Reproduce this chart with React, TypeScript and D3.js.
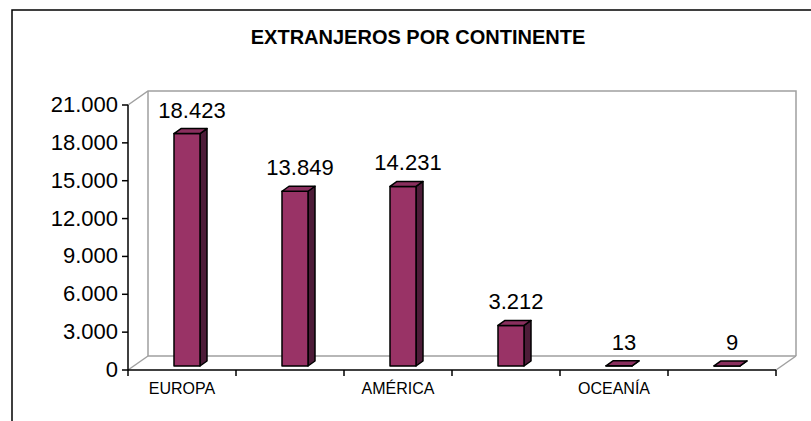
import React from 'react';
import * as d3 from 'd3';

const categories = ['EUROPA', 'ÁFRICA', 'AMÉRICA', 'ASIA', 'OCEANÍA', 'APÁTRIDAS'];
const values = [18423, 13849, 14231, 3212, 13, 9];
const yTicks = [0, 3000, 6000, 9000, 12000, 15000, 18000, 21000];
const title = 'EXTRANJEROS POR CONTINENTE';

const W = 811;
const H = 421;

const esFormat = d3.formatLocale({
  decimal: ',',
  thousands: '.',
  grouping: [3],
  currency: ['', ''],
}).format(',d');

const App = () => {
  const left = 128;
  const right = 776;
  const base = 370;
  const top = 105;
  // depth of the 3D walls
  const wdx = 20;
  const wdy = -14;
  // bars sit a bit inside the depth
  const bdx0 = 5;
  const bdy0 = -4;
  const bdx = 7;
  const bdy = -5;
  const barW = 26;

  const x = d3.scaleBand().domain(categories).range([left, right]).paddingInner(0).paddingOuter(0);
  const y = d3.scaleLinear().domain([0, 21000]).range([base, top]);

  const wall = '#a0a0a0';
  const font = 'Liberation Sans, Arial, sans-serif';

  const bars = categories.map((c, i) => {
    const v = values[i];
    const cx = x(c) + x.bandwidth() / 2 + bdx0;
    const x0 = cx - barW / 2;
    const x1 = cx + barW / 2;
    const yb = y(0) + bdy0;
    const yt = y(v) + bdy0;
    const front = `M${x0},${yb}L${x1},${yb}L${x1},${yt}L${x0},${yt}Z`;
    const side = `M${x1},${yb}L${x1 + bdx},${yb + bdy}L${x1 + bdx},${yt + bdy}L${x1},${yt}Z`;
    const topFace = `M${x0},${yt}L${x1},${yt}L${x1 + bdx},${yt + bdy}L${x0 + bdx},${yt + bdy}Z`;
    return (
      <g key={c}>
        <path d={side} fill="#4d1c38" stroke="#000" strokeWidth={1.5} strokeLinejoin="round" />
        <path d={front} fill="#993366" stroke="#000" strokeWidth={1.5} strokeLinejoin="round" />
        <path d={topFace} fill="#8a2f5e" stroke="#000" strokeWidth={1.5} strokeLinejoin="round" />
        <text x={cx + 5} y={yt + bdy - 11} textAnchor="middle" fontSize={22} fontFamily={font} fill="#000">
          {esFormat(v)}
        </text>
      </g>
    );
  });

  const boundaries = categories.map(c => x(c)).concat([right]);

  return (
    <svg width={W} height={H} style={{ position: 'absolute', left: 0, top: 0, background: '#fff' }}>
      {/* outer frame */}
      <path d={`M12,${H}L12,10L${W},10`} fill="none" stroke="#000" strokeWidth={1.5} />
      <text x={418} y={44} textAnchor="middle" fontSize={20} fontWeight="bold" fontFamily={font} fill="#000">
        {title}
      </text>

      {/* 3D walls */}
      <g fill="none" stroke={wall} strokeWidth={1.5}>
        <path d={`M${left},${y(21000)}L${left + wdx},${y(21000) + wdy}L${right + wdx},${y(21000) + wdy}L${right + wdx},${base + wdy}`} />
        <path d={`M${left + wdx},${y(21000) + wdy}L${left + wdx},${base + wdy}L${right + wdx},${base + wdy}`} />
        <path d={`M${left},${base}L${left + wdx},${base + wdy}`} />
        <path d={`M${right},${base}L${right + wdx},${base + wdy}`} />
      </g>

      {bars}

      {/* y axis */}
      <g>
        <line x1={left} x2={left} y1={y(21000)} y2={base} stroke="#000" strokeWidth={1.5} />
        {yTicks.map(t => (
          <g key={t}>
            <line x1={left - 6} x2={left} y1={y(t)} y2={y(t)} stroke="#000" strokeWidth={1.5} />
            <text x={118} y={y(t) + 7} textAnchor="end" fontSize={22} fontFamily={font} fill="#000">
              {esFormat(t)}
            </text>
          </g>
        ))}
      </g>

      {/* x axis */}
      <g>
        <line x1={left} x2={right} y1={base} y2={base} stroke="#000" strokeWidth={1.5} />
        {boundaries.map((b, i) => (
          <line key={i} x1={b} x2={b} y1={base} y2={base + 6} stroke="#000" strokeWidth={1.5} />
        ))}
        {categories.map((c, i) =>
          i % 2 === 0 ? (
            <text key={c} x={x(c) + x.bandwidth() / 2} y={394} textAnchor="middle" fontSize={16} fontFamily={font} fill="#000">
              {c}
            </text>
          ) : null
        )}
      </g>
    </svg>
  );
};

export default App;
